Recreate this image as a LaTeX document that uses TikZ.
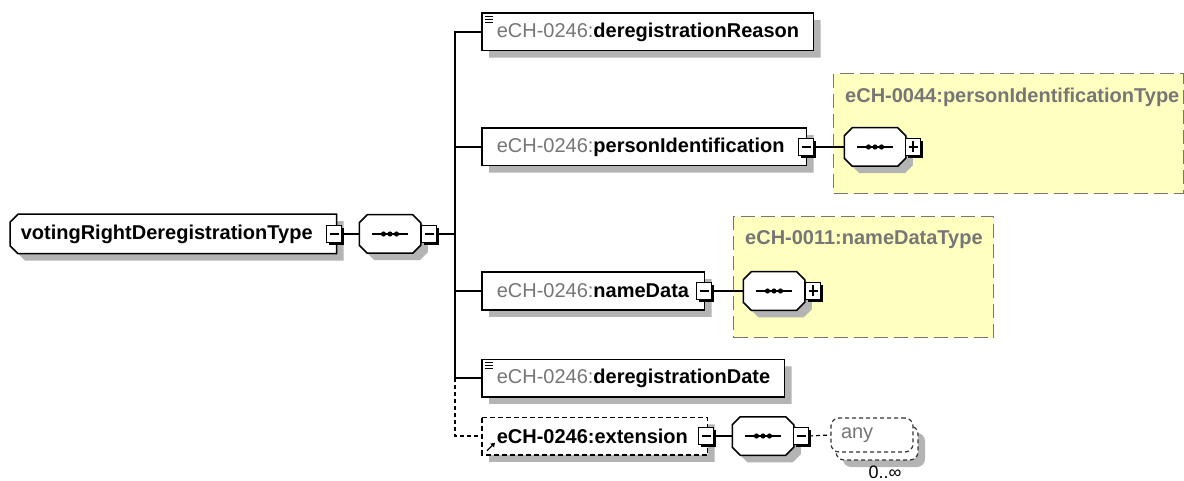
\documentclass[tikz,border=0pt]{standalone}
\usepackage{fontspec}
\setmainfont{Liberation Sans}
\usetikzlibrary{shadows,arrows.meta}
\definecolor{nsgray}{RGB}{118,118,118}
\definecolor{typeyellow}{RGB}{255,255,192}
\definecolor{shadowgray}{RGB}{180,180,180}
\newcommand{\elemlabel}[2]{\mbox{{\color{nsgray}#1}\textbf{#2}}}
% box with cut corners, as XMLSpy draws types and compositors
\makeatletter
\pgfkeys{/pgf/left cut/.initial=0pt,/pgf/right cut/.initial=0pt}
\pgfdeclareshape{xsdbox}{
	\inheritsavedanchors[from=rectangle]
	\inheritanchorborder[from=rectangle]
	\inheritanchor[from=rectangle]{center}
	\inheritanchor[from=rectangle]{north}
	\inheritanchor[from=rectangle]{south}
	\inheritanchor[from=rectangle]{west}
	\inheritanchor[from=rectangle]{east}
	\inheritanchor[from=rectangle]{north west}
	\inheritanchor[from=rectangle]{north east}
	\inheritanchor[from=rectangle]{south west}
	\inheritanchor[from=rectangle]{south east}
	\inheritanchor[from=rectangle]{text}
	\inheritanchor[from=rectangle]{base}
	\inheritanchor[from=rectangle]{mid}
	\backgroundpath{%
		\southwest\edef\xsd@l{\the\pgf@x}\edef\xsd@b{\the\pgf@y}%
		\northeast\edef\xsd@r{\the\pgf@x}\edef\xsd@t{\the\pgf@y}%
		\pgfmathsetlength\pgf@xa{\pgfkeysvalueof{/pgf/left cut}}\edef\xsd@lc{\the\pgf@xa}%
		\pgfmathsetlength\pgf@xb{\pgfkeysvalueof{/pgf/right cut}}\edef\xsd@rc{\the\pgf@xb}%
		\pgfpathmoveto{\pgfpointadd{\pgfqpoint{\xsd@l}{\xsd@t}}{\pgfqpoint{\xsd@lc}{0pt}}}%
		\pgfpathlineto{\pgfpointadd{\pgfqpoint{\xsd@r}{\xsd@t}}{\pgfqpoint{-\xsd@rc}{0pt}}}%
		\pgfpathlineto{\pgfpointadd{\pgfqpoint{\xsd@r}{\xsd@t}}{\pgfqpoint{0pt}{-\xsd@rc}}}%
		\pgfpathlineto{\pgfpointadd{\pgfqpoint{\xsd@r}{\xsd@b}}{\pgfqpoint{0pt}{\xsd@rc}}}%
		\pgfpathlineto{\pgfpointadd{\pgfqpoint{\xsd@r}{\xsd@b}}{\pgfqpoint{-\xsd@rc}{0pt}}}%
		\pgfpathlineto{\pgfpointadd{\pgfqpoint{\xsd@l}{\xsd@b}}{\pgfqpoint{\xsd@lc}{0pt}}}%
		\pgfpathlineto{\pgfpointadd{\pgfqpoint{\xsd@l}{\xsd@b}}{\pgfqpoint{0pt}{\xsd@lc}}}%
		\pgfpathlineto{\pgfpointadd{\pgfqpoint{\xsd@l}{\xsd@t}}{\pgfqpoint{0pt}{-\xsd@lc}}}%
		\pgfpathclose
	}
}
\makeatother
\tikzset{
	xsdfont/.style={font=\fontsize{20}{23}\selectfont},
	boxshadow/.style={drop shadow={shadow xshift=7pt,shadow yshift=-7pt,fill=shadowgray,opacity=1}},
	elem/.style={xsdfont,shape=xsdbox,draw,line width=1.5pt,fill=white,minimum height=36pt,inner xsep=14pt,inner ysep=0pt,anchor=west,align=left,boxshadow},
	ctype/.style={elem,left cut=8pt,minimum height=38pt,inner xsep=10pt},
	seqbox/.style={shape=xsdbox,left cut=8pt,right cut=8pt,draw,line width=1.5pt,fill=white,minimum width=60pt,minimum height=37pt,inner sep=0pt,boxshadow,
		path picture={\draw[black,line width=1.2pt]([xshift=-18pt]path picture bounding box.center)--([xshift=18pt]path picture bounding box.center);
			\fill[black]([xshift=-6.5pt]path picture bounding box.center) circle(2.6pt);
			\fill[black](path picture bounding box.center) circle(2.6pt);
			\fill[black]([xshift=6.5pt]path picture bounding box.center) circle(2.6pt);}},
	minusbox/.style={draw,line width=1.1pt,fill=white,minimum width=15pt,minimum height=17pt,inner sep=0pt,
		drop shadow={shadow xshift=2.5pt,shadow yshift=-2.5pt,fill=black,opacity=1},
		path picture={\draw[line width=1.2pt]([xshift=3pt]path picture bounding box.west)--([xshift=-3pt]path picture bounding box.east);}},
	plusbox/.style={minusbox,
		path picture={\draw[line width=1.2pt]([xshift=3pt]path picture bounding box.west)--([xshift=-3pt]path picture bounding box.east);
			\draw[line width=1.2pt]([yshift=3pt]path picture bounding box.south)--([yshift=-3pt]path picture bounding box.north);}},
	typebox/.style={draw=nsgray,dash pattern=on 14pt off 6pt,line width=1.3pt,fill=typeyellow,anchor=north west,inner sep=0pt},
	typetitle/.style={xsdfont,text=nsgray,anchor=west,inner sep=0pt},
	anybox/.style={xsdfont,rounded corners=8pt,draw=black!80,dash pattern=on 4pt off 3pt,line width=1.2pt,fill=white,text=nsgray,minimum width=82pt,minimum height=34pt,inner xsep=10pt,text width=62pt,align=left},
	wire/.style={line width=1.2pt},
}
\begin{document}
\begin{tikzpicture}[x=1pt,y=-1pt]
		\useasboundingbox (0,0) rectangle (1184,481);
		% referenced types
		\node[typebox,minimum width=350pt,minimum height=120pt] (pidtype) at (833,73) {};
		\node[typetitle] (pidtitle) at (845,97) {\bfseries eCH-0044:personIdentificationType};
		\node[typebox,minimum width=260pt,minimum height=121pt] (nametype) at (733,216) {};
		\node[typetitle] (nametitle) at (745,240) {\bfseries eCH-0011:nameDataType};
		% root and its sequence
		\node[ctype,text width=305pt] (root) at (10,234) {\elemlabel{}{votingRightDeregistrationType}};
		\node[minusbox] (rootm) at (334,234) {};
		\node[seqbox] (seq) at (390,234) {};
		\node[minusbox] (seqm) at (429,234) {};
		\coordinate (bus) at (455,0);
		% children
		\node[elem,text width=302pt] (reason) at (482,32) {\elemlabel{eCH-0246:}{deregistrationReason}};
		\node[elem,text width=295pt] (pid) at (482,147) {\elemlabel{eCH-0246:}{personIdentification}};
		\node[minusbox] (pidm) at (806,147) {};
		\node[seqbox] (pidseq) at (875,147) {};
		\node[plusbox] (pidseqp) at (913,147) {};
		\node[elem,text width=193pt] (namedata) at (482,291) {\elemlabel{eCH-0246:}{nameData}};
		\node[minusbox] (namedatam) at (704,291) {};
		\node[seqbox] (nameseq) at (774,291) {};
		\node[plusbox] (nameseqp) at (813,291) {};
		\node[elem,text width=273pt] (date) at (482,378) {\elemlabel{eCH-0246:}{deregistrationDate}};
		\node[elem,dash pattern=on 5pt off 3pt,text width=196pt] (ext) at (482,436) {\elemlabel{}{eCH-0246:extension}};
		\node[minusbox] (extm) at (706,436) {};
		\node[seqbox] (extseq) at (763,436) {};
		\node[minusbox] (extseqm) at (801,436) {};
		\node[anybox,boxshadow] (anyback) at (877,443) {};
		\node[anybox] (any) at (872,435) {any};
		\node[font=\fontsize{18}{20}\selectfont,inner sep=0pt] (anyocc) at (885,472) {0..∞};
		% icons
		\foreach \n in {reason,date}
			\foreach \i in {3,6,9}
				\draw[line width=0.9pt]([shift={(3,\i)}]\n.north west)--++(8,0);
		\draw[line width=1.3pt,-{Triangle[length=4pt,width=5pt]}]([shift={(5,-4)}]ext.south west)--++(8,-8);
		% connectors
		\draw[wire](rootm.east)--(seq.west);
		\draw[wire](seqm.east)--(seqm.east-|bus);
		\draw[wire](reason.west)-|(date.west-|bus);
		\foreach \n in {pid,namedata,date}
			\draw[wire](\n.west)--(\n.west-|bus);
		\draw[wire,dash pattern=on 4pt off 3pt](date.west-|bus)|-(ext.west);
		\draw[wire](pidm.east)--(pidseq.west);
		\draw[wire](namedatam.east)--(nameseq.west);
		\draw[wire](extm.east)--(extseq.west);
		\draw[wire,dash pattern=on 4pt off 3pt](extseqm.east)--(any.west);
		\end{tikzpicture}
\end{document}
